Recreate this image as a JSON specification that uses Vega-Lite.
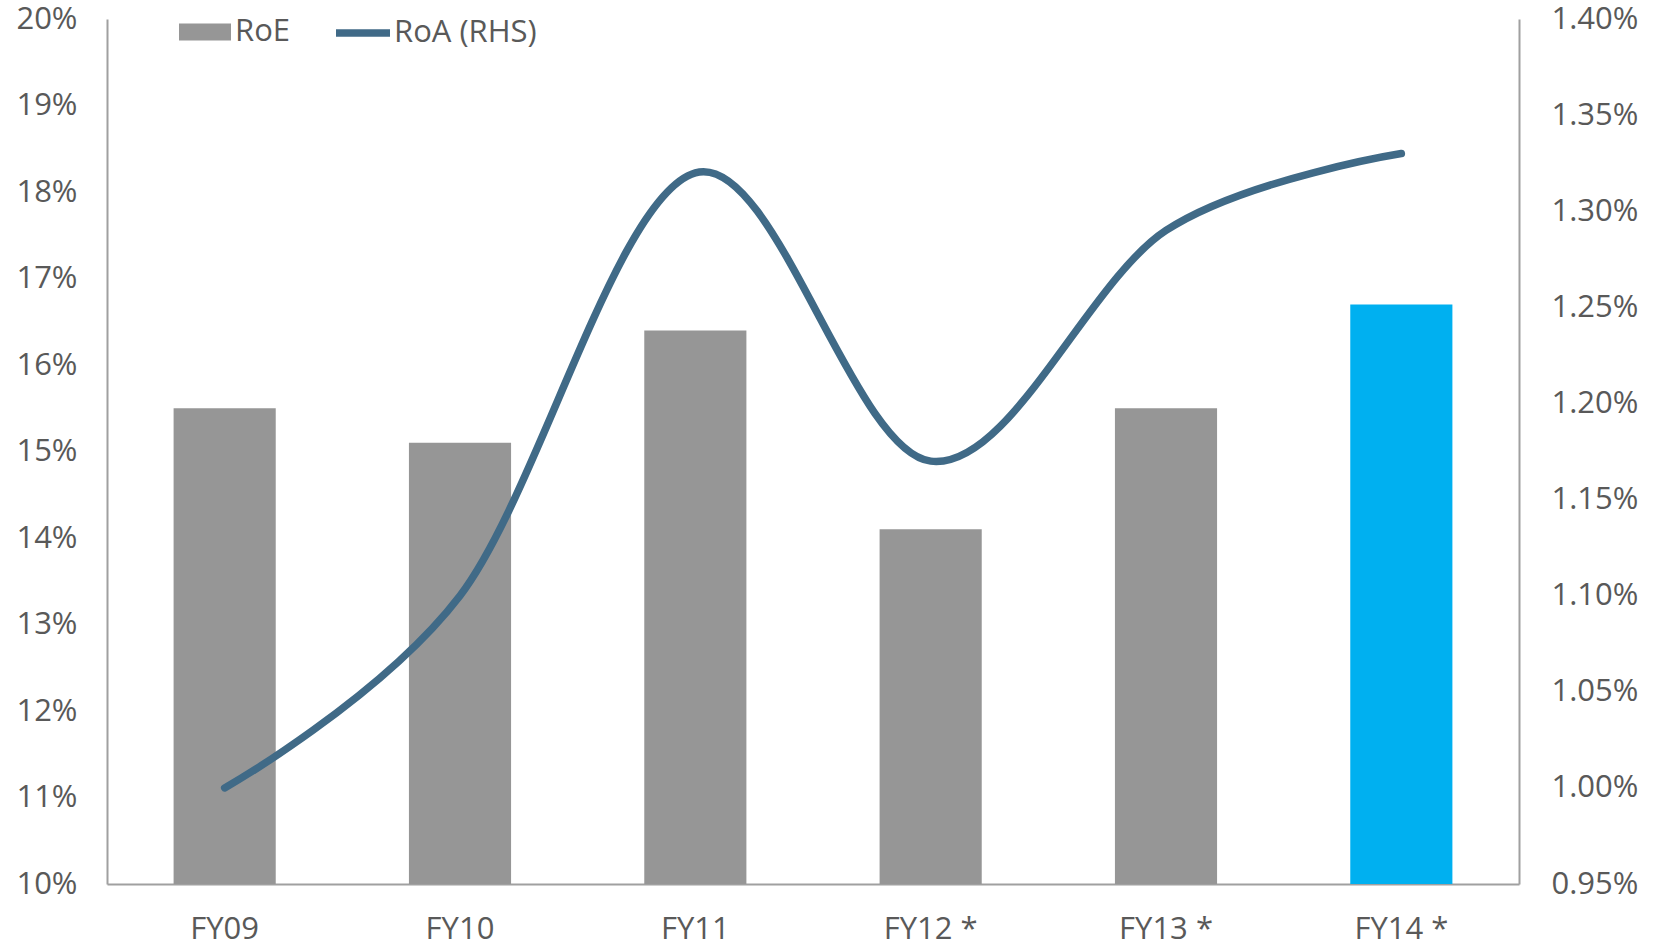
{
  "$schema": "https://vega.github.io/schema/vega-lite/v6.json",
  "autosize": "none",
  "width": 1412,
  "height": 865,
  "padding": {"left": 107, "top": 19, "right": 140, "bottom": 60},
  "background": "white",
  "config": {
    "view": {"stroke": null},
    "font": "Open Sans",
    "axis": {"labelFont": "Open Sans", "labelColor": "#595959", "labelFontSize": 31, "grid": false, "ticks": false, "domainColor": "#A0A0A0", "domainWidth": 2, "title": null},
    "legend": {"labelFont": "Open Sans", "labelColor": "#595959", "labelFontSize": 31, "padding": 0, "title": null}
  },
  "data": {
    "values": [
      {"year": "FY09", "roe": 0.155, "roa": 0.0100, "s1": "RoE", "s2": "RoA (RHS)"},
      {"year": "FY10", "roe": 0.151, "roa": 0.0110, "s1": "RoE", "s2": "RoA (RHS)"},
      {"year": "FY11", "roe": 0.164, "roa": 0.0132, "s1": "RoE", "s2": "RoA (RHS)"},
      {"year": "FY12 *", "roe": 0.141, "roa": 0.0117, "s1": "RoE", "s2": "RoA (RHS)"},
      {"year": "FY13 *", "roe": 0.155, "roa": 0.0129, "s1": "RoE", "s2": "RoA (RHS)"},
      {"year": "FY14 *", "roe": 0.167, "roa": 0.0133, "s1": "RoE", "s2": "RoA (RHS)"}
    ]
  },
  "encoding": {
    "x": {
      "field": "year", "type": "nominal", "sort": null,
      "scale": {"paddingInner": 0.566, "paddingOuter": 0.283},
      "axis": {"labelAngle": 0, "labelPadding": 30, "domain": true}
    }
  },
  "layer": [
    {
      "mark": {"type": "bar"},
      "encoding": {
        "y": {
          "field": "roe", "type": "quantitative",
          "scale": {"domain": [0.10, 0.20], "zero": false, "nice": false},
          "axis": {"orient": "left", "format": ".0%", "values": [0.10, 0.11, 0.12, 0.13, 0.14, 0.15, 0.16, 0.17, 0.18, 0.19, 0.20], "labelPadding": 30}
        },
        "y2": {"datum": 0.10},
        "fill": {
          "condition": {"test": "datum.year === 'FY14 *'", "value": "#00B0F0"},
          "field": "s1", "type": "nominal",
          "scale": {"domain": ["RoE"], "range": ["#969696"]},
          "legend": {
            "orient": "none", "legendX": 72, "legendY": -13,
            "symbolType": "M-1,-0.33H1V0.33H-1Z", "symbolSize": 2704,
            "symbolStrokeWidth": 0, "labelOffset": 4
          }
        }
      }
    },
    {
      "mark": {"type": "line", "interpolate": "cardinal", "strokeWidth": 7.5, "strokeCap": "round"},
      "encoding": {
        "y": {
          "field": "roa", "type": "quantitative",
          "scale": {"domain": [0.0095, 0.0140], "zero": false, "nice": false},
          "axis": {"orient": "right", "format": ".2%", "values": [0.0095, 0.0100, 0.0105, 0.0110, 0.0115, 0.0120, 0.0125, 0.0130, 0.0135, 0.0140], "labelPadding": 32}
        },
        "stroke": {
          "field": "s2", "type": "nominal",
          "scale": {"domain": ["RoA (RHS)"], "range": ["#406A87"]},
          "legend": {
            "orient": "none", "legendX": 225, "legendY": -17,
            "symbolType": "stroke", "symbolSize": 2916, "symbolStrokeWidth": 7.5,
            "labelOffset": 0
          }
        }
      }
    }
  ],
  "resolve": {"scale": {"y": "independent", "fill": "independent", "stroke": "independent"}}
}
